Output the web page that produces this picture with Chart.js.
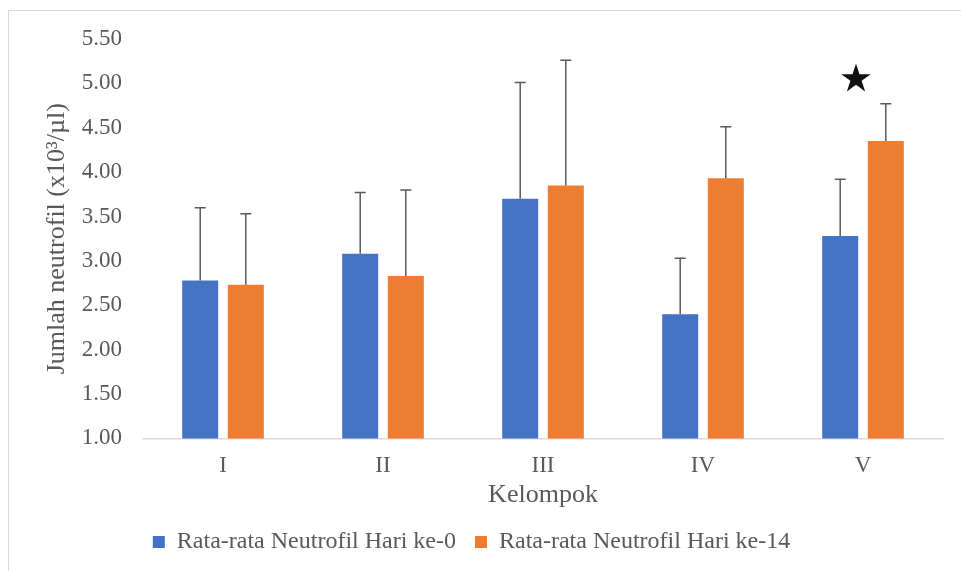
<!DOCTYPE html>
<html>
<head>
<meta charset="utf-8">
<script src="https://cdn.jsdelivr.net/npm/chart.js@4/dist/chart.umd.min.js"></script>
<style>
  html, body { margin: 0; padding: 0; background: #fff; }
  #wrap { position: relative; width: 961px; height: 571px; overflow: hidden; }
  #frame { position: absolute; left: 8px; top: 10px; width: 1000px; height: 600px;
           border: 1.5px solid #d9d9d9; box-sizing: border-box; }
  canvas { position: absolute; left: 0; top: 0; }
</style>
</head>
<body>
<div id="wrap">
  <div id="frame"></div>
  <canvas id="chart" width="961" height="571"></canvas>
</div>
<script>
// Data
const groups = ['I', 'II', 'III', 'IV', 'V'];
const meanDay0 = [2.78, 3.08, 3.70, 2.40, 3.28];
const sdDay0 = [0.82, 0.69, 1.31, 0.63, 0.64];
const meanDay14 = [2.73, 2.83, 3.85, 3.93, 4.35];
const sdDay14 = [0.80, 0.97, 1.41, 0.58, 0.42];
const starGroups = [4];        // index of group marked as significant
const starValues = [5.05];     // height of the star marker

const serif = "'Liberation Serif', 'Times New Roman', serif";
const textColor = '#595959';

// Upper error bars drawn from the dataset values through the scales
const errorBars = {
  id: 'errorBars',
  afterDatasetsDraw(chart) {
    const ctx = chart.ctx;
    const y = chart.scales.y;
    ctx.save();
    ctx.strokeStyle = '#5a5a5a';
    ctx.lineWidth = 1.5;
    chart.data.datasets.forEach((ds, i) => {
      const meta = chart.getDatasetMeta(i);
      meta.data.forEach((bar, j) => {
        const top = y.getPixelForValue(ds.data[j] + ds.errors[j]);
        ctx.beginPath();
        ctx.moveTo(bar.x, bar.y);
        ctx.lineTo(bar.x, top);
        ctx.moveTo(bar.x - 5.5, top);
        ctx.lineTo(bar.x + 5.5, top);
        ctx.stroke();
      });
    });
    ctx.restore();
  }
};

// Significance star
const starMarker = {
  id: 'starMarker',
  afterDatasetsDraw(chart) {
    const ctx = chart.ctx;
    const xs = chart.scales.x, ys = chart.scales.y;
    ctx.save();
    ctx.fillStyle = '#111';
    starGroups.forEach((g, k) => {
      const cx = xs.getPixelForValue(g) - 7;
      const cy = ys.getPixelForValue(starValues[k]);
      const R = 15.5, r = R * 0.382;
      ctx.beginPath();
      for (let p = 0; p < 10; p++) {
        const rad = p % 2 === 0 ? R : r;
        const a = -Math.PI / 2 + p * Math.PI / 5;
        const px = cx + rad * Math.cos(a);
        const py = cy + rad * Math.sin(a);
        if (p === 0) ctx.moveTo(px, py); else ctx.lineTo(px, py);
      }
      ctx.closePath();
      ctx.fill();
    });
    ctx.restore();
  }
};

new Chart(document.getElementById('chart'), {
  type: 'bar',
  data: {
    labels: groups,
    datasets: [{
      label: 'Rata-rata Neutrofil Hari ke-0',
      data: meanDay0,
      errors: sdDay0,
      backgroundColor: '#4472C4',
      categoryPercentage: 0.57,
      barPercentage: 0.79
    }, {
      label: 'Rata-rata Neutrofil Hari ke-14',
      data: meanDay14,
      errors: sdDay14,
      backgroundColor: '#ED7D31',
      categoryPercentage: 0.57,
      barPercentage: 0.79
    }]
  },
  options: {
    responsive: false,
    animation: false,
    layout: { padding: { left: 0, right: 18, top: 39, bottom: 7 } },
    plugins: {
      tooltip: { enabled: false },
      legend: {
        position: 'bottom',
        labels: {
          boxWidth: 12,
          boxHeight: 12,
          padding: 19,
          color: textColor,
          font: { family: serif, size: 24 }
        }
      }
    },
    scales: {
      y: {
        min: 1,
        max: 5.5,
        grid: { display: false, drawTicks: false },
        border: { display: false },
        ticks: {
          stepSize: 0.5,
          padding: 21,
          color: textColor,
          font: { family: serif, size: 23 },
          callback: v => v.toFixed(2)
        },
        title: {
          display: true,
          text: 'Jumlah neutrofil (x10³/µl)',
          color: textColor,
          font: { family: serif, size: 26 },
          padding: { top: 42, bottom: 0 }
        },
        afterFit: s => { s.width = 143; }
      },
      x: {
        grid: { display: false, drawTicks: false },
        border: { display: true, color: '#d9d9d9', width: 1.5 },
        ticks: {
          padding: 14,
          color: textColor,
          font: { family: serif, size: 23 }
        },
        title: {
          display: true,
          text: 'Kelompok',
          color: textColor,
          font: { family: serif, size: 26 },
          padding: { top: 0, bottom: 0 }
        },
        afterFit: s => { s.height = 72.6; }
      }
    }
  },
  plugins: [errorBars, starMarker]
});
</script>
</body>
</html>
